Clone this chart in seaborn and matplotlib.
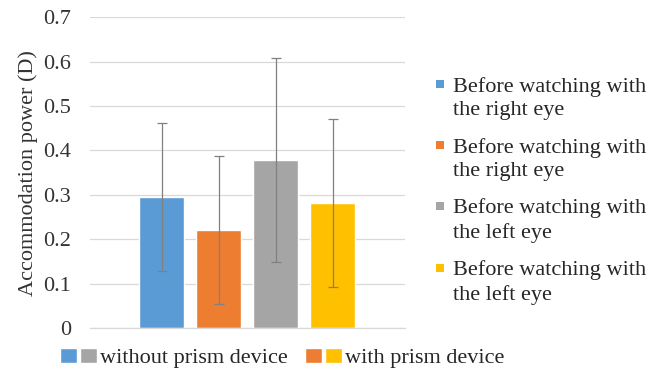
import matplotlib
matplotlib.use("Agg")
import matplotlib.pyplot as plt
import seaborn as sns
import pandas as pd
from matplotlib.patches import Patch, Rectangle
from matplotlib.legend_handler import HandlerTuple, HandlerBase

# Mean accommodation power and standard deviation per condition
conditions = [
    "Before watching with\nthe right eye",
    "Before watching with\nthe right eye ",
    "Before watching with\nthe left eye",
    "Before watching with\nthe left eye ",
]
means = [0.295, 0.221, 0.379, 0.281]
errors = [0.166, 0.166, 0.230, 0.189]
colors = ["#5b9bd5", "#ed7d31", "#a5a5a5", "#ffc000"]
group_labels = ["without prism device", "with prism device"]
y_ticks = [0, 0.1, 0.2, 0.3, 0.4, 0.5, 0.6, 0.7]
y_tick_labels = ["0", "0.1", "0.2", "0.3", "0.4", "0.5", "0.6", "0.7"]

FS = 16
LINESPACING = 1.32

sns.set_theme(style="white")
plt.rcParams["font.family"] = ["Liberation Serif", "DejaVu Serif"]

df = pd.DataFrame({"condition": conditions, "mean": means})

fig = plt.figure(figsize=(6.69, 3.72), dpi=100)
ax = fig.add_axes([0.1345, 0.118, 0.4705, 0.836])

sns.barplot(data=df, x="condition", y="mean", hue="condition",
            palette=colors, width=0.79, errorbar=None, legend=False,
            saturation=1, ax=ax)

centers = [p.get_x() + p.get_width() / 2 for p in ax.patches]
ax.errorbar(centers, means, yerr=errors, fmt="none", ecolor="#808080",
            elinewidth=0.9, capsize=3.6, capthick=0.9, zorder=3)

ax.set_xlim(-1.26, 4.26)
ax.set_ylim(0, 0.7)
ax.set_yticks(y_ticks)
ax.set_yticklabels(y_tick_labels, fontsize=FS, color="#333333")
ax.set_xticks([])
ax.set_xlabel("")
ax.set_ylabel("Accommodation power (D)", fontsize=FS, color="#333333", labelpad=4)
ax.tick_params(axis="y", length=0, pad=13.5)
ax.yaxis.grid(True, color="#d9d9d9", linewidth=0.9)
ax.set_axisbelow(True)
for s in ["top", "right", "left"]:
    ax.spines[s].set_visible(False)
ax.spines["bottom"].set_color("#d9d9d9")
ax.spines["bottom"].set_linewidth(0.9)


class FirstLineSquare(HandlerBase):
    """Small square marker placed beside the first line of a two-line label."""

    def create_artists(self, legend, orig_handle, xdescent, ydescent,
                       width, height, fontsize, trans):
        size = 0.37 * fontsize
        line_gap = LINESPACING * 0.88 * fontsize
        y0 = line_gap - 0.2 * fontsize - size / 2
        rect = Rectangle((-xdescent, y0), size, size,
                         facecolor=orig_handle.get_facecolor(),
                         edgecolor="none", transform=trans)
        return [rect]


# Legend of the four conditions on the right
handles = [Patch(facecolor=c, edgecolor="none") for c in colors]
leg = fig.legend(handles, [c.strip() for c in conditions], loc="upper left",
                 bbox_to_anchor=(436 / 669, 1 - 77 / 372), frameon=False,
                 fontsize=FS, borderpad=0, borderaxespad=0, handlelength=0.37,
                 handleheight=1.8, handletextpad=0.4, labelspacing=0.78,
                 labelcolor="#262626",
                 handler_map={Patch: FirstLineSquare()})
for t in leg.get_texts():
    t.set_linespacing(LINESPACING)

# Group legend below the axes
group_handles = [
    (Patch(facecolor=colors[0]), Patch(facecolor=colors[2])),
    (Patch(facecolor=colors[1]), Patch(facecolor=colors[3])),
]
fig.legend(group_handles, group_labels, loc="center left",
           bbox_to_anchor=(60 / 669, 1 - 358 / 372), ncol=2, frameon=False,
           fontsize=FS, borderpad=0, borderaxespad=0,
           handler_map={tuple: HandlerTuple(ndivide=None, pad=0.14)},
           handlelength=1.66, handleheight=0.63, handletextpad=0.14,
           columnspacing=0.77, labelcolor="#262626")

fig.savefig("out.png", dpi=100)
